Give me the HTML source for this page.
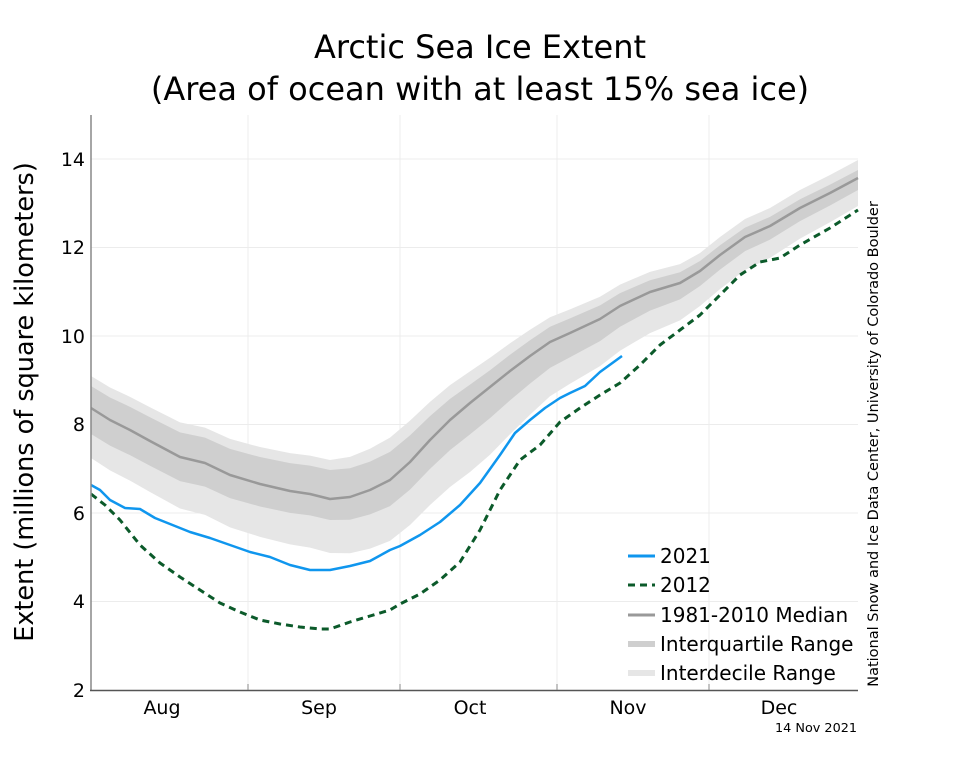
<!DOCTYPE html><html><head><meta charset="utf-8"><style>body{margin:0;background:#fff}svg{display:block;font-family:"DejaVu Sans","Liberation Sans",sans-serif}</style></head><body>
<svg id="s" width="960" height="768" viewBox="0 0 960 768">
<rect width="960" height="768" fill="#fff"/>
<text x="480" y="58" font-size="32" text-anchor="middle" fill="#000">Arctic Sea Ice Extent</text>
<text x="480" y="100" font-size="32" text-anchor="middle" fill="#000">(Area of ocean with at least 15% sea ice)</text>
<g stroke="#ececec" stroke-width="1">
<line x1="91" x2="858" y1="159" y2="159"/><line x1="91" x2="858" y1="247.5" y2="247.5"/><line x1="91" x2="858" y1="336" y2="336"/><line x1="91" x2="858" y1="424.5" y2="424.5"/><line x1="91" x2="858" y1="513" y2="513"/><line x1="91" x2="858" y1="601.5" y2="601.5"/>
<line x1="248" x2="248" y1="115" y2="690"/><line x1="400" x2="400" y1="115" y2="690"/><line x1="557" x2="557" y1="115" y2="690"/><line x1="709" x2="709" y1="115" y2="690"/>
</g>
<g id="bands"></g>
<g id="lines"></g>
<line x1="91" x2="91" y1="115" y2="691" stroke="#888" stroke-width="1.5"/>
<line x1="90" x2="858" y1="690.5" y2="690.5" stroke="#555" stroke-width="1.5"/>
<g stroke="#888"><line x1="248" x2="248" y1="684" y2="690"/><line x1="400" x2="400" y1="684" y2="690"/><line x1="557" x2="557" y1="684" y2="690"/><line x1="709" x2="709" y1="684" y2="690"/></g>
<g font-size="19" text-anchor="end" fill="#000">
<text x="85" y="166">14</text><text x="85" y="254">12</text><text x="85" y="343">10</text><text x="85" y="431">8</text><text x="85" y="520">6</text><text x="85" y="608">4</text><text x="85" y="697">2</text></g>
<g font-size="19" text-anchor="middle" fill="#000">
<text x="162" y="714">Aug</text><text x="319" y="714">Sep</text><text x="470" y="714">Oct</text><text x="628" y="714">Nov</text><text x="779" y="714">Dec</text></g>
<text transform="translate(33,402) rotate(-90)" font-size="25.5" text-anchor="middle">Extent (millions of square kilometers)</text>
<text transform="translate(878,444) rotate(-90)" font-size="14.5" text-anchor="middle">National Snow and Ice Data Center, University of Colorado Boulder</text>
<text x="857" y="732" font-size="12.8" text-anchor="end">14 Nov 2021</text>
<g font-size="20" fill="#000">
<line x1="628" x2="655" y1="556" y2="556" stroke="#0f96ee" stroke-width="3"/><text x="660" y="563">2021</text>
<line x1="628" x2="655" y1="585" y2="585" stroke="#0b5a2a" stroke-width="3" stroke-dasharray="7,5"/><text x="660" y="592">2012</text>
<line x1="628" x2="655" y1="615" y2="615" stroke="#999" stroke-width="3"/><text x="660" y="622">1981-2010 Median</text>
<line x1="628" x2="655" y1="644" y2="644" stroke="#cfcfcf" stroke-width="6"/><text x="660" y="651">Interquartile Range</text>
<line x1="628" x2="655" y1="673" y2="673" stroke="#e6e6e6" stroke-width="6"/><text x="660" y="680">Interdecile Range</text>
</g>
</svg>
<script>
var med=[[91,408],[110,420],[130,430],[150,441],[180,457],[205,463],[230,475],[260,484],[290,491],[310,494],[330,499],[350,497],[370,490],[390,480],[410,462],[430,440],[450,420],[470,403],[490,387],[510,371],[530,356],[550,342],[570,333],[600,319],[620,306],[650,292],[680,283],[700,271],[720,255],[745,237],[770,226],[800,208],[830,193],[858,178]];
var off=[[91,32,22,26,50],[330,39,29,21,54],[400,43,28,27,62],[480,30,17,32,70],[560,24,15,25,52],[700,18,10,15,35],[858,18,8,12,28]];
function o(x,k){for(var i=0;i<off.length-1;i++){var a=off[i],b=off[i+1];if(x<=b[0]){var t=(x-a[0])/(b[0]-a[0]);return a[k]+(b[k]-a[k])*t;}}return off[off.length-1][k];}
function band(u,d,c){var top=med.map(p=>p[0]+','+(p[1]-o(p[0],u))),bot=med.slice().reverse().map(p=>p[0]+','+(p[1]+o(p[0],d)));return '<polygon fill="'+c+'" points="'+top.concat(bot).join(' ')+'"/>';}
document.getElementById('bands').innerHTML=band(1,4,'#e6e6e6')+band(2,3,'#cfcfcf');
var y21=[[91,485],[100,490],[110,500],[125,508],[140,509],[155,518],[175,526],[190,532],[210,538],[230,545],[250,552],[270,557],[290,565],[310,570],[330,570],[350,566],[370,561],[390,550],[400,546],[420,535],[440,522],[460,505],[480,483],[500,455],[515,433],[530,420],[545,408],[560,398],[570,393],[585,386],[600,372],[622,356]];
var y12=[[91,494],[105,505],[120,520],[140,545],[160,563],[180,577],[200,590],[220,603],[240,612],[260,620],[280,624],[300,627],[320,629],[330,629],[350,622],[370,616],[390,610],[400,604],[420,594],[440,580],[460,562],[480,530],[500,490],[520,460],[540,445],[560,422],[580,408],[600,395],[620,383],[640,365],[660,345],[680,330],[700,315],[720,295],[740,275],[760,262],[780,258],[800,245],[830,228],[858,210]];
function pl(a,s){return '<polyline fill="none" stroke-linejoin="round" '+s+' points="'+a.map(p=>p.join(',')).join(' ')+'"/>';}
document.getElementById('lines').innerHTML=pl(med,'stroke="#999" stroke-width="2.5"')+pl(y12,'stroke="#0b5a2a" stroke-width="3" stroke-dasharray="7,5"')+pl(y21,'stroke="#0f96ee" stroke-width="2.5"');
</script>
</body></html>
